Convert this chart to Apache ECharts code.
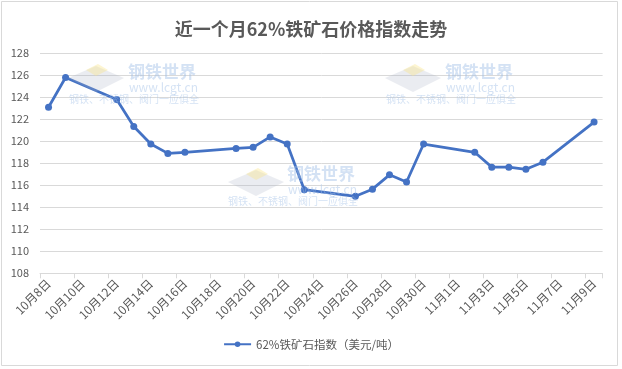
<!DOCTYPE html>
<html>
<head>
<meta charset="utf-8">
<script src="https://cdn.jsdelivr.net/npm/echarts@6/dist/echarts.min.js"></script>
<style>html,body{margin:0;padding:0;background:#fff}#c{width:622px;height:369px}</style>
</head>
<body>
<div id="c"></div>
<script>
const title = '近一个月62%铁矿石价格指数走势';
const seriesName = '62%铁矿石指数（美元/吨）';
const days = ['10月8日','10月9日','10月10日','10月11日','10月12日','10月13日','10月14日','10月15日','10月16日','10月17日','10月18日','10月19日','10月20日','10月21日','10月22日','10月23日','10月24日','10月25日','10月26日','10月27日','10月28日','10月29日','10月30日','10月31日','11月1日','11月2日','11月3日','11月4日','11月5日','11月6日','11月7日','11月8日','11月9日'];
const pointDates = ['10月8日','10月9日','10月12日','10月13日','10月14日','10月15日','10月16日','10月19日','10月20日','10月21日','10月22日','10月23日','10月26日','10月27日','10月28日','10月29日','10月30日','11月2日','11月3日','11月4日','11月5日','11月6日','11月9日'];
const pointValues = [123.1,125.8,123.8,121.35,119.75,118.9,119.0,119.35,119.45,120.4,119.75,115.6,115.0,115.65,116.95,116.3,119.75,119.0,117.65,117.65,117.45,118.1,121.75];
const yTicks = {min:108, max:128, interval:2};

const font = '"Noto Sans CJK SC","Microsoft YaHei",sans-serif';
const wmColor = 'rgba(160,190,230,0.45)';
function watermark(x, y, lx, ly){
  return [
    {type:'polygon', z:100, shape:{points:[[lx,ly+12],[lx+28,ly],[lx+56,ly+12],[lx+28,ly+26]]}, style:{fill:'rgba(170,180,200,0.25)'}},
    {type:'polygon', z:100, shape:{points:[[lx+18,ly+4],[lx+30,ly-2],[lx+40,ly+4],[lx+28,ly+10]]}, style:{fill:'rgba(250,230,140,0.4)'}},
    {type:'text', z:100, x:x, y:y, style:{text:'钢铁世界', font:'bold 17px '+font, fill:wmColor}},
    {type:'text', z:100, x:x+1, y:y+18, style:{text:'www.lcgt.cn', font:'12px '+font, fill:wmColor}},
    {type:'text', z:100, x:x-59, y:y+31, style:{text:'钢铁、不锈钢、阀门一应俱全', font:'10px '+font, fill:wmColor}}
  ];
}

const chart = echarts.init(document.getElementById('c'), null, {renderer:'canvas'});
chart.setOption({
  animation:false,
  backgroundColor:'#fff',
  title:{text:title, left:'center', top:15, textStyle:{fontFamily:font, fontSize:18, fontWeight:'bold', color:'#595959'}},
  grid:{left:40, top:53.3, width:562.6, height:220, containLabel:false},
  legend:{bottom:14, left:'center', itemWidth:27, itemHeight:7, itemGap:4,
    textStyle:{fontFamily:font, fontSize:11.5, color:'#595959'}, data:[seriesName]},
  xAxis:{type:'category', data:days, boundaryGap:true,
    axisLine:{lineStyle:{color:'#d9d9d9'}},
    axisTick:{show:true, interval:1, length:5, lineStyle:{color:'#d9d9d9'}},
    axisLabel:{interval:1, rotate:45, margin:8, fontFamily:font, fontSize:12, color:'#595959'},
    splitLine:{show:false}},
  yAxis:{type:'value', min:yTicks.min, max:yTicks.max, interval:yTicks.interval,
    axisLine:{show:false}, axisTick:{show:false},
    axisLabel:{margin:11, fontFamily:font, fontSize:11, color:'#595959'},
    splitLine:{lineStyle:{color:'#d9d9d9'}}},
  series:[{name:seriesName, type:'line', data:pointDates.map((d,i)=>[d, pointValues[i]]),
    symbol:'circle', symbolSize:7, connectNulls:true,
    lineStyle:{color:'#4472C4', width:2.75}, itemStyle:{color:'#4472C4'}}],
  graphic:[
    {type:'rect', z:-1, shape:{x:1.5, y:1.5, width:616, height:364}, style:{fill:null, stroke:'#d9d9d9', lineWidth:1}},
    ...watermark(128, 63, 68, 66),
    ...watermark(445, 63, 385, 66),
    ...watermark(287, 165, 228, 170)
  ]
});
</script>
</body>
</html>
